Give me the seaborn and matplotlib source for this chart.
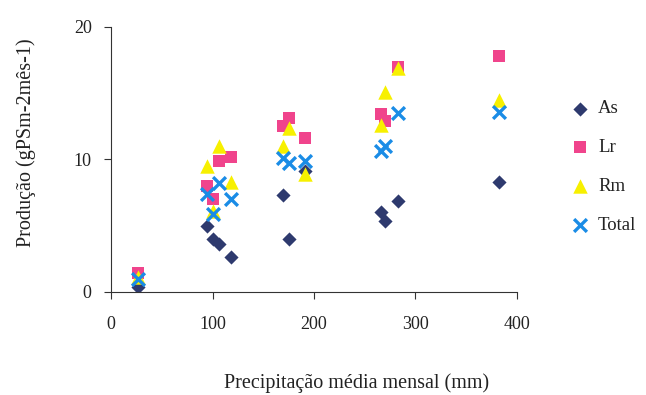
import matplotlib
matplotlib.use("Agg")
import matplotlib.pyplot as plt
import seaborn as sns

# Monthly mean precipitation (mm) and production for each species
precip = [27, 95, 100, 106, 118, 169, 175, 191, 266, 270, 283, 382]
as_vals = [0.35, 5.0, 4.0, 3.6, 2.6, 7.35, 4.0, 9.1, 6.0, 5.35, 6.85, 8.3]
lr_vals = [1.4, 8.0, 7.0, 9.9, 10.2, 12.5, 13.1, 11.6, 13.4, 12.9, 17.0, 17.8]
rm_vals = [1.1, 9.5, 6.1, 11.0, 8.3, 11.0, 12.4, 8.9, 12.6, 15.1, 16.9, 14.5]
total_vals = [0.95, 7.4, 5.85, 8.2, 7.0, 10.1, 9.7, 9.9, 10.6, 11.0, 13.5, 13.55]

series_names = ["As", "Lr", "Rm", "Total"]
x_ticks = [0, 100, 200, 300, 400]
y_ticks = [0, 10, 20]

sns.set_theme(style="white")
plt.rcParams["font.family"] = ["Liberation Serif", "DejaVu Serif"]

fig = plt.figure(figsize=(6.46, 3.95), dpi=100)
ax = fig.add_axes([0.172, 0.261, 0.628, 0.671])

styles = [
    dict(marker="D", color="#2e3a6e", s=52, linewidth=0),
    dict(marker="s", color="#f0448c", s=78, linewidth=0),
    dict(marker="^", color="#f7f000", s=108, linewidth=0),
    dict(marker="x", color="#1a8ce6", s=85, linewidth=2.4),
]
for name, vals, st in zip(series_names, [as_vals, lr_vals, rm_vals, total_vals], styles):
    sns.scatterplot(x=precip, y=vals, ax=ax, label=name, **st)

ax.set_xlim(0, 400)
ax.set_ylim(0, 20)
ax.set_xticks(x_ticks)
ax.set_yticks(y_ticks)
ax.tick_params(axis="both", which="both", direction="out", length=5, width=0.8,
               color="#333333", labelsize=13, labelcolor="#222222")
ax.tick_params(axis="x", pad=12, bottom=True)
ax.tick_params(axis="y", pad=9, left=True)
for side in ["top", "right"]:
    ax.spines[side].set_visible(False)
for side in ["left", "bottom"]:
    ax.spines[side].set_color("#333333")
    ax.spines[side].set_linewidth(0.8)

ax.set_xlabel("")
ax.set_ylabel("")
fig.text(0.552, 0.03, "Precipitação média mensal (mm)", ha="center", va="center",
         fontsize=14.5, color="#222222")
fig.text(0.040, 0.638, "Produção (gPSm-2mês-1)", ha="center", va="center",
         rotation=90, fontsize=14.5, color="#222222")

leg = ax.legend(loc="upper left", bbox_to_anchor=(0.872, 0.765), bbox_transform=fig.transFigure,
                frameon=False, fontsize=13.5, labelspacing=1.15, handletextpad=0.45,
                handlelength=1.0, borderaxespad=0)
for t in leg.get_texts():
    t.set_color("#222222")

fig.savefig("out.png", dpi=100)
